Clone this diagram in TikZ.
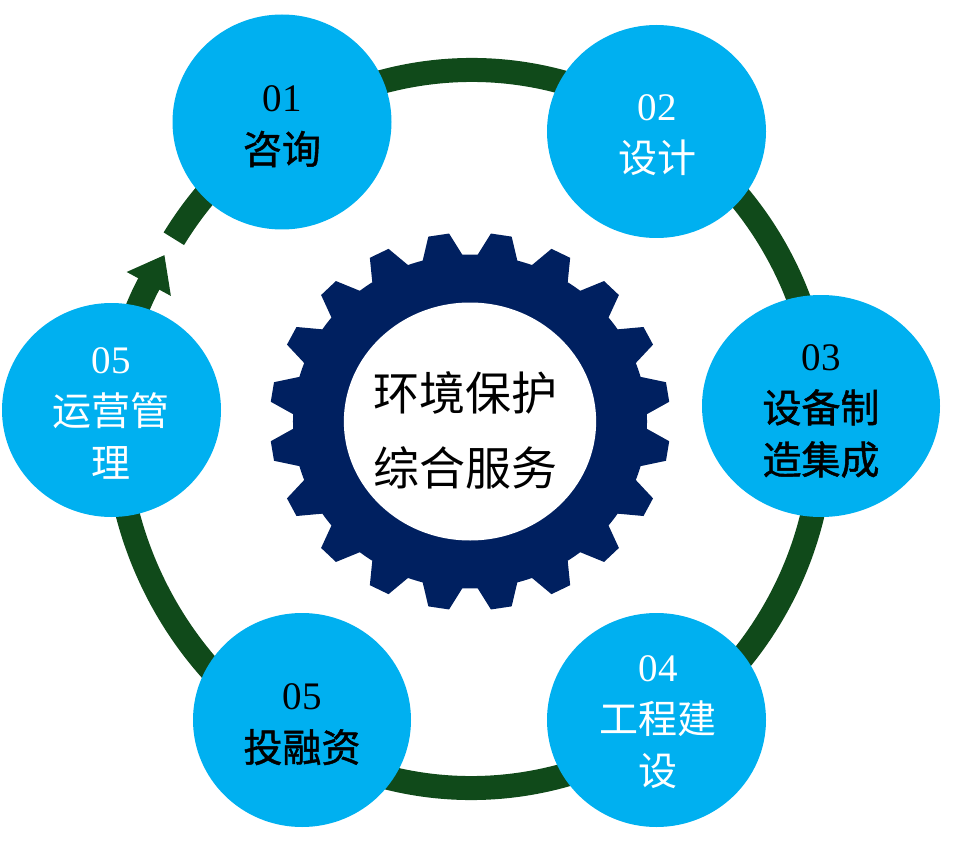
\documentclass[tikz,border=0pt]{standalone}
\usepackage{fontspec}
\setmainfont{Liberation Serif}
\newfontfamily\cjk{Noto Sans CJK SC}
\newfontfamily\cjkb[FakeBold=1.2]{Noto Sans CJK SC}
\usetikzlibrary{shapes.geometric,arrows.meta}
\definecolor{ringgreen}{HTML}{104A1A}
\definecolor{bubblue}{HTML}{00B0F0}
\definecolor{gearnavy}{HTML}{002060}
\tikzset{
  bub/.style={ellipse, fill=bubblue, draw=none, inner sep=0pt},
  lbl/.style={align=center, inner sep=0pt, font=\fontsize{39}{52}\selectfont},
  lbk/.style={lbl, text=black},
  lbw/.style={lbl, text=white},
  ringline/.style={draw=ringgreen, line width=24pt},
  ctrtext/.style={align=center, inner sep=0pt, text=black, font=\cjk\fontsize{46}{75}\selectfont},
}
\begin{document}
\begin{tikzpicture}[x=1pt,y=-1pt]
\fill[white] (0,0) rectangle (956,845);
\useasboundingbox (0,0) rectangle (956,845);
% ring with arrow
\coordinate (rc) at (471.5,429);
\coordinate (rs) at ([shift={(212:351 and 359)}]rc);
\draw[ringline,-{Triangle[length=33pt,width=48pt]}] (rs) arc[start angle=212,end angle=569,x radius=351,y radius=359];
% gear
\begin{scope}[shift={(470,421.5)},xscale=1.06]
\fill[gearnavy] (2.5:167) \foreach \a in {9,27,...,351}{ -- (\a-6.5:167) -- (\a-3:189) -- (\a+3:189) -- (\a+6.5:167) arc[start angle=\a+6.5,end angle=\a+11.5,radius=167]} -- cycle;
\fill[white] (0,0) circle[radius=119];
\end{scope}
\node[ctrtext] (ctr) at (465,430) {环境保护\\综合服务};
% bubbles
\node[bub, minimum width=219pt, minimum height=215pt] (n1) at (282,122) {};
\node[bub, minimum width=219pt, minimum height=213pt] (n2) at (656.5,131.5) {};
\node[bub, minimum width=238pt, minimum height=222pt] (n3) at (821,406) {};
\node[bub, minimum width=219pt, minimum height=214pt] (n4) at (656.5,720) {};
\node[bub, minimum width=218pt, minimum height=214pt] (n5) at (302,720) {};
\node[bub, minimum width=219pt, minimum height=214pt] (n6) at (111.5,410) {};
% labels
\node[lbk] (t1) at (282,126.5) {01\\{\cjkb 咨询}};
\node[lbw] (t2) at (657,135.5) {02\\{\cjk 设计}};
\node[lbk] (t3) at (821,411) {03\\{\cjkb 设备制}\\{\cjkb 造集成}};
\node[lbw] (t4) at (658,722.5) {04\\{\cjk 工程建}\\{\cjk 设}};
\node[lbk] (t5) at (302,724.5) {05\\{\cjkb 投融资}};
\node[lbw] (t6) at (111,413.5) {05\\{\cjk 运营管}\\{\cjk 理}};
\end{tikzpicture}
\end{document}
